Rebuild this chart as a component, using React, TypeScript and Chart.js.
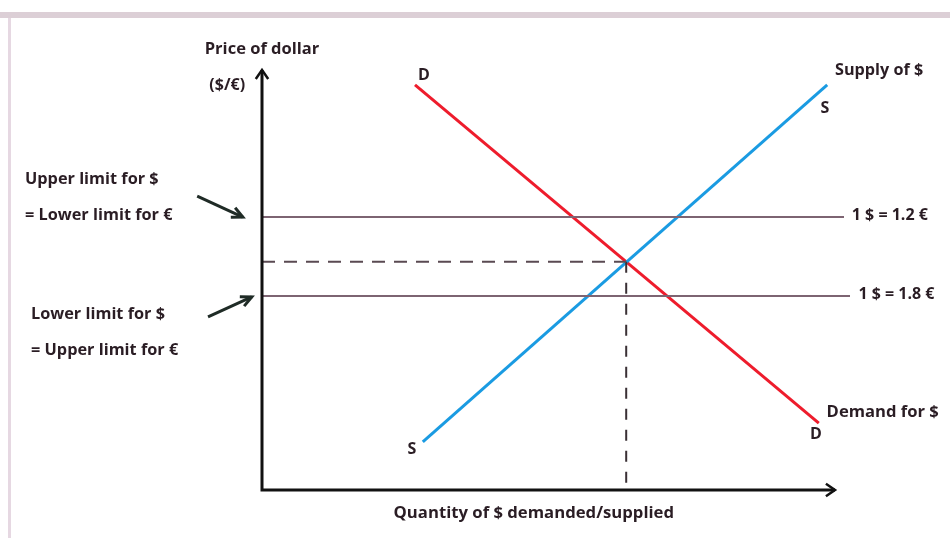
import React, { useEffect, useRef } from "react";
import { Chart, registerables } from "chart.js";

Chart.register(...registerables);

// ---- data (diagram units: x 0..100 quantity, y 0..100 price) ----
const demandX = [25.5, 92.8];
const demandY = [96.9, 16.0];
const supplyX = [26.8, 94.2];
const supplyY = [11.5, 96.9];
const rateLevels = [65.3, 46.4];
const rateLabels = ["1 $ = 1.2 €", "1 $ = 1.8 €"];
const rateLineEnd = 97;
const equilibriumX = 60.7;
const equilibriumY = 54.6;
const xAxisEnd = 95.5;
const yAxisEnd = 100.5;

const FONT = "'Open Sans', Lato, sans-serif";

const pts = (xs: number[], ys: number[]) => xs.map((x, i) => ({ x, y: ys[i] }));

function drawArrowHead(ctx: CanvasRenderingContext2D, x1: number, y1: number, x2: number, y2: number, len: number, spread: number) {
  const a = Math.atan2(y2 - y1, x2 - x1);
  ctx.beginPath();
  ctx.moveTo(x2 - len * Math.cos(a - spread), y2 - len * Math.sin(a - spread));
  ctx.lineTo(x2, y2);
  ctx.lineTo(x2 - len * Math.cos(a + spread), y2 - len * Math.sin(a + spread));
  ctx.stroke();
}

const diagramPlugin = {
  id: "diagram",
  beforeDraw(chart: any) {
    const ctx = chart.ctx as CanvasRenderingContext2D;
    ctx.save();
    ctx.fillStyle = "#ffffff";
    ctx.fillRect(0, 0, chart.width, chart.height);
    // scanned frame edges
    ctx.fillStyle = "#dccfd6";
    ctx.fillRect(0, 12, chart.width, 6);
    ctx.fillStyle = "#e6d8e2";
    ctx.fillRect(8, 18, 3, chart.height - 18);
    ctx.restore();
  },
  afterDatasetsDraw(chart: any) {
    const ctx = chart.ctx as CanvasRenderingContext2D;
    const xs = chart.scales.x;
    const ys = chart.scales.y;
    const px = (v: number) => xs.getPixelForValue(v);
    const py = (v: number) => ys.getPixelForValue(v);
    ctx.save();
    // axes
    ctx.strokeStyle = "#111111";
    ctx.lineWidth = 3;
    ctx.lineCap = "butt";
    ctx.beginPath();
    ctx.moveTo(px(0), py(yAxisEnd));
    ctx.lineTo(px(0), py(0));
    ctx.lineTo(px(xAxisEnd), py(0));
    ctx.stroke();
    ctx.lineWidth = 2.5;
    ctx.lineJoin = "miter";
    drawArrowHead(ctx, px(0), py(0), px(0), py(yAxisEnd), 11, 0.6);
    drawArrowHead(ctx, px(0), py(0), px(xAxisEnd), py(0), 11, 0.6);

    // pointer arrows on the left
    ctx.strokeStyle = "#1f2b26";
    ctx.lineWidth = 3;
    const a1 = [px(-10.8), py(70.3), px(-3.2), py(65.3)];
    ctx.beginPath();
    ctx.moveTo(a1[0], a1[1]);
    ctx.lineTo(a1[2], a1[3]);
    ctx.stroke();
    drawArrowHead(ctx, a1[0], a1[1], a1[2], a1[3], 12, 0.45);
    const a2 = [px(-9.0), py(41.4), px(-1.7), py(46.2)];
    ctx.beginPath();
    ctx.moveTo(a2[0], a2[1]);
    ctx.lineTo(a2[2], a2[3]);
    ctx.stroke();
    drawArrowHead(ctx, a2[0], a2[1], a2[2], a2[3], 12, 0.45);

    // texts
    ctx.fillStyle = "#2a1d24";
    ctx.textBaseline = "middle";
    const text = (s: string, x: number, y: number, size: number, align: CanvasTextAlign = "left", weight = "bold") => {
      ctx.font = `${weight} ${size}px ${FONT}`;
      ctx.textAlign = align;
      ctx.fillText(s, px(x), py(y));
    };
    text("Price of dollar", 0, 105.5, 16.5, "center");
    text("($/€)", -5.8, 96.9, 16, "center");
    text("Quantity of $ demanded/supplied", 45.3, -5.5, 16.7, "center");
    text("D", demandX[0] + 1.5, 99.1, 16, "center");
    text("D", demandX[1] - 0.5, 13.4, 16, "center");
    text("S", supplyX[0] - 1.8, 9.6, 16, "center");
    text("S", supplyX[1] - 0.4, 91.3, 16, "center");
    text("Supply of $", supplyX[1] + 1.3, 100.5, 16.2, "left");
    text("Demand for $", demandX[1] + 1.3, 18.7, 16.6, "left");
    rateLevels.forEach((lv, i) => {
      text(rateLabels[i], rateLineEnd + 1.3 + i * 1.1, lv + 0.4, 16, "left");
    });
    text("Upper limit for $", -39.5, 74.4, 16.3, "left");
    text("= Lower limit for €", -39.5, 65.8, 16.3, "left");
    text("Lower limit for $", -38.5, 42.0, 16.3, "left");
    text("= Upper limit for €", -38.5, 33.3, 16.3, "left");
    ctx.restore();
  },
};

export default function App() {
  const canvasRef = useRef<HTMLCanvasElement | null>(null);
  useEffect(() => {
    document.body.style.margin = "0";
    const canvas = canvasRef.current!;
    const chart = new Chart(canvas, {
      type: "scatter",
      data: {
        datasets: [
          {
            label: "Rate 1.2",
            data: [{ x: 0, y: rateLevels[0] }, { x: rateLineEnd, y: rateLevels[0] }],
            showLine: true,
            borderColor: "#7d6472",
            borderWidth: 2,
            pointRadius: 0,
          },
          {
            label: "Rate 1.8",
            data: [{ x: 0, y: rateLevels[1] }, { x: rateLineEnd + 1, y: rateLevels[1] }],
            showLine: true,
            borderColor: "#7d6472",
            borderWidth: 2,
            pointRadius: 0,
          },
          {
            label: "Eq price",
            data: [{ x: 0, y: equilibriumY }, { x: equilibriumX, y: equilibriumY }],
            showLine: true,
            borderColor: "#5a4a52",
            borderWidth: 2,
            borderDash: [13, 9],
            pointRadius: 0,
          },
          {
            label: "Eq quantity",
            data: [{ x: equilibriumX, y: equilibriumY }, { x: equilibriumX, y: 0 }],
            showLine: true,
            borderColor: "#3a3035",
            borderWidth: 2,
            borderDash: [11, 10],
            pointRadius: 0,
          },
          {
            label: "Supply",
            data: pts(supplyX, supplyY),
            showLine: true,
            borderColor: "#1a9be2",
            borderWidth: 3,
            pointRadius: 0,
          },
          {
            label: "Demand",
            data: pts(demandX, demandY),
            showLine: true,
            borderColor: "#ee1c2c",
            borderWidth: 3,
            pointRadius: 0,
          },
        ],
      },
      options: {
        responsive: false,
        animation: false,
        layout: { padding: { left: 262, right: 88, top: 72, bottom: 48 } },
        plugins: { legend: { display: false }, tooltip: { enabled: false } },
        scales: {
          x: { type: "linear", min: 0, max: 100, display: false },
          y: { type: "linear", min: 0, max: 100, display: false },
        },
      },
      plugins: [diagramPlugin],
    });
    return () => chart.destroy();
  }, []);
  return (
    <div style={{ width: 950, height: 538 }}>
      <canvas ref={canvasRef} width={950} height={538} />
    </div>
  );
}
